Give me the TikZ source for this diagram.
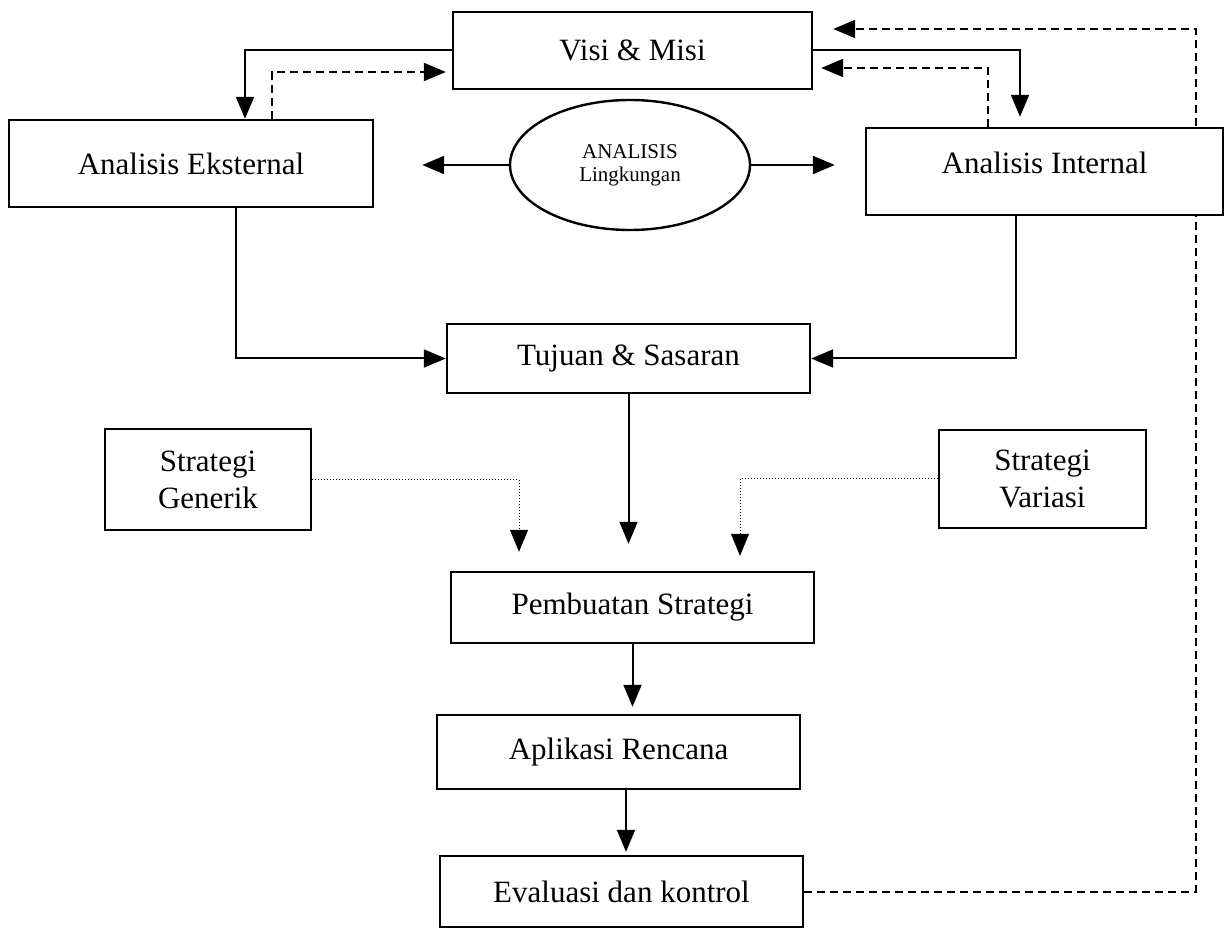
\documentclass[tikz,border=0pt]{standalone}
\usepackage{fontspec}
\setmainfont{Liberation Serif}
\usetikzlibrary{arrows.meta,positioning,shapes.geometric,backgrounds}
\tikzset{
  box/.style   = {draw, line width=1.2pt, fill=white, align=center, inner sep=2pt,
                  font=\fontsize{15.5}{18.5}\selectfont},
  oval/.style  = {ellipse, draw, line width=1.2pt, fill=white, align=center, inner sep=0pt,
                  font=\fontsize{10.5}{11.5}\selectfont},
  ar/.style    = {-{Triangle[length=11pt,width=9pt]}, line width=1pt},
  dar/.style   = {ar, dash pattern=on 4pt off 2.5pt},
  dotar/.style = {ar, line width=0.5pt, dash pattern=on 0.6pt off 0.9pt},
}
\begin{document}
\begin{tikzpicture}[x=0.5pt, y=-0.5pt]
  \useasboundingbox (0,0) rectangle (1226,929);
  \node[box, minimum width=179.5pt, minimum height=38.5pt] (visi) at (632.5,50.5) {Visi \& Misi};
  \node[box, minimum width=182pt, minimum height=43.5pt] (ekst) at (191,163.5) {Analisis Eksternal};
  \node[oval, minimum width=120pt, minimum height=65pt] (ling) at (630,165) {ANALISIS\\Lingkungan};
  \node[box, minimum width=178.5pt, minimum height=43.5pt, text depth=9pt] (inter) at (1044.5,171.5) {Analisis Internal};
  \node[box, minimum width=181.5pt, minimum height=34.5pt] (tuj) at (628.5,358.5) {Tujuan \& Sasaran};
  \node[box, minimum width=103pt, minimum height=50.5pt] (gen) at (208,479.5) {Strategi\\Generik};
  \node[box, minimum width=103.5pt, minimum height=49pt] (var) at (1042.5,479) {Strategi\\Variasi};
  \node[box, minimum width=181.5pt, minimum height=35.5pt] (pemb) at (632.5,607.5) {Pembuatan Strategi};
  \node[box, minimum width=181.5pt, minimum height=37pt] (apl) at (618.5,752) {Aplikasi Rencana};
  \node[box, minimum width=181.5pt, minimum height=35.5pt] (eval) at (621.5,891.5) {Evaluasi dan kontrol};
  \coordinate (fb) at (1196,29);

  \draw[ar] (visi.west) -| (ekst.north -| 245,0);
  \draw[dar] (ekst.north -| 272,0) |- ([xshift=-3pt]visi.west |- 0,72);
  \draw[ar] (visi.east) -| ([yshift=5pt]inter.north -| 1020,0);
  \draw[dar] (inter.north -| 988,0) |- ([xshift=4pt]visi.east |- 0,68);
  \draw[ar] (ling.west) -- ([xshift=24pt]ekst.east |- ling.west);
  \draw[ar] (ling.east) -- ([xshift=-15pt]inter.west |- ling.east);
  \draw[ar] (ekst.south -| 236,0) |- (tuj.west);
  \draw[ar] (inter.south -| 1016,0) |- (tuj.east);
  \draw[ar] (tuj.south) -- ([yshift=13.5pt]pemb.north -| tuj.south);
  \draw[dotar] (gen.east) -| ([yshift=9.5pt]pemb.north -| 519,0);
  \draw[dotar] (var.west) -| ([yshift=7.5pt]pemb.north -| 740,0);
  \draw[ar] (pemb.south) -- ([yshift=3.5pt]apl.north -| pemb.south);
  \draw[ar] (apl.south -| 626,0) -- ([yshift=1.5pt]eval.north -| 626,0);
  \begin{scope}[on background layer]
    \draw[dar] (eval.east) -| (fb) -- ([xshift=10pt]visi.east |- fb);
  \end{scope}
\end{tikzpicture}
\end{document}
